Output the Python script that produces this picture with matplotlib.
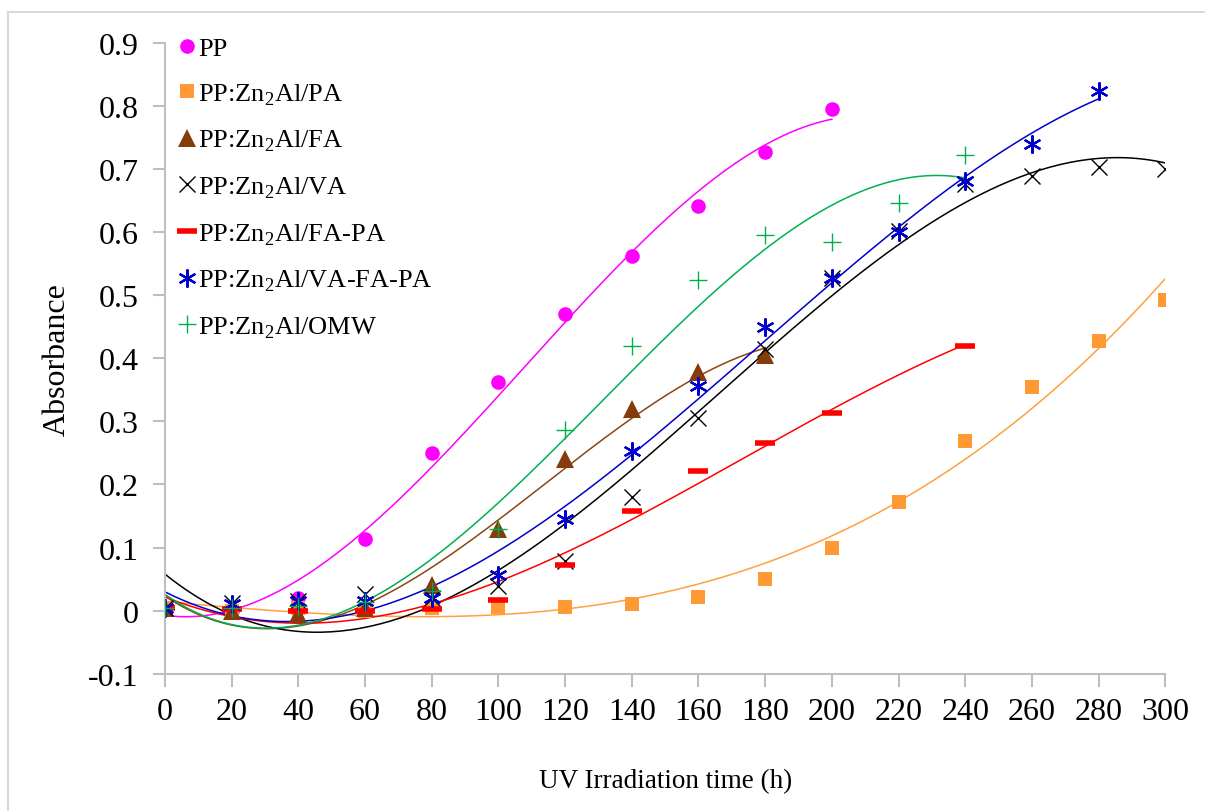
import numpy as np
import matplotlib
matplotlib.use("Agg")
import matplotlib.pyplot as plt
from matplotlib.lines import Line2D

plt.rcParams['font.family'] = ['Liberation Serif', 'DejaVu Serif']
plt.rcParams['mathtext.fontset'] = 'custom'
plt.rcParams['mathtext.rm'] = 'Liberation Serif'

# UV irradiation time (h)
t_pp = [0, 20, 40, 60, 80, 100, 120, 140, 160, 180, 200]
a_pp = [0.005, 0.0, 0.02, 0.113, 0.25, 0.362, 0.47, 0.562, 0.642, 0.727, 0.795]

t_pa = [0, 20, 40, 60, 80, 100, 120, 140, 160, 180, 200, 220, 240, 260, 280, 300]
a_pa = [0.005, 0.0, 0.005, 0.0, 0.005, 0.006, 0.006, 0.01, 0.022, 0.05, 0.099,
        0.173, 0.269, 0.355, 0.428, 0.493]

t_fa = [0, 20, 40, 60, 80, 100, 120, 140, 160, 180]
a_fa = [0.005, 0.0, -0.005, 0.005, 0.04, 0.129, 0.24, 0.319, 0.378, 0.406]

t_va = [0, 20, 40, 60, 80, 100, 120, 140, 160, 180, 200, 220, 240, 260, 280, 300]
a_va = [0.005, 0.012, 0.015, 0.027, 0.02, 0.039, 0.079, 0.18, 0.305, 0.415,
        0.528, 0.602, 0.676, 0.689, 0.704, 0.70]

t_fapa = [0, 20, 40, 60, 80, 100, 120, 140, 160, 180, 200, 240]
a_fapa = [0.005, 0.002, 0.0, 0.0, 0.003, 0.017, 0.072, 0.158, 0.222, 0.265,
          0.314, 0.419]

t_vfp = [0, 20, 40, 60, 80, 100, 120, 140, 160, 180, 200, 220, 240, 260, 280]
a_vfp = [0.005, 0.01, 0.015, 0.015, 0.02, 0.057, 0.145, 0.253, 0.356, 0.45,
         0.528, 0.60, 0.681, 0.739, 0.824]

t_omw = [0, 20, 40, 60, 80, 100, 120, 140, 160, 180, 200, 220, 240]
a_omw = [0.005, 0.005, 0.008, 0.013, 0.031, 0.13, 0.286, 0.42, 0.524, 0.595,
         0.584, 0.646, 0.722]

labels = ['PP', 'PP:Zn$_2$Al/PA', 'PP:Zn$_2$Al/FA', 'PP:Zn$_2$Al/VA',
          'PP:Zn$_2$Al/FA-PA', 'PP:Zn$_2$Al/VA-FA-PA', 'PP:Zn$_2$Al/OMW']

series = [
    (t_pp, a_pp, dict(marker='o', color='#FF00FF', ms=10.5, mew=0), '#FF00FF'),
    (t_pa, a_pa, dict(marker='s', color='#FF9933', ms=10, mew=0), '#FFA040'),
    (t_fa, a_fa, dict(marker='^', color='#843C0C', ms=13, mew=0), '#8B4513'),
    (t_va, a_va, dict(marker='x', color='black', ms=12, mew=1.0), 'black'),
    (t_fapa, a_fapa, dict(marker='_', color='#FF0000', ms=15, mew=4), '#FF0000'),
    (t_vfp, a_vfp, dict(marker=(6, 2, 0), color='#0000CC', ms=13, mew=1.6), '#0000CC'),
    (t_omw, a_omw, dict(marker='+', color='#00B050', ms=13, mew=1.0), '#00B050'),
]

fig = plt.figure(figsize=(12.05, 8.12), dpi=100)
ax = fig.add_axes([0.137, 0.169, 0.830, 0.777])

# polynomial (order 3) trendlines
for t, a, mk, lc in series:
    coef = np.polyfit(t, a, 3)
    xs = np.linspace(min(t), max(t), 200)
    ax.plot(xs, np.polyval(coef, xs), color=lc, lw=1.1, zorder=2)

handles = []
for (t, a, mk, lc), lab in zip(series, labels):
    ax.plot(t, a, linestyle='none', zorder=3, **mk)
    handles.append(Line2D([], [], linestyle='none', label=lab, **mk))

ax.set_xlim(0, 300)
ax.set_ylim(-0.1, 0.9)
ax.set_xticks(range(0, 301, 20))
yt = [-0.1, 0, 0.1, 0.2, 0.3, 0.4, 0.5, 0.6, 0.7, 0.8, 0.9]
ax.set_yticks(yt)
ax.set_yticklabels(['-0.1' if v < 0 else ('0' if v == 0 else f'{v:.1f}') for v in yt])

for s in ['top', 'right']:
    ax.spines[s].set_visible(False)
for s in ['left', 'bottom']:
    ax.spines[s].set_color('#BFBFBF')
    ax.spines[s].set_linewidth(1.5)
ax.tick_params(axis='both', colors='#BFBFBF', labelcolor='black', labelsize=23,
               length=9, width=1.5, direction='out')
ax.tick_params(axis='x', pad=8)
ax.tick_params(axis='y', pad=10)

ax.set_xlabel('UV Irradiation time (h)', fontsize=19.5, labelpad=30)
ax.set_ylabel('Absorbance', fontsize=23, labelpad=12)

ax.legend(handles=handles, loc='upper left', bbox_to_anchor=(-0.004, 1.039),
          frameon=False, fontsize=19, handlelength=0.6, handletextpad=0.1,
          labelspacing=0.8, borderaxespad=0.3)

# outer chart-area border
fig.add_artist(Line2D([8 / 1205, 8 / 1205], [0, 1 - 13 / 812],
                      transform=fig.transFigure, color='#D9D9D9', lw=1.5))
fig.add_artist(Line2D([8 / 1205, 1], [1 - 13 / 812, 1 - 13 / 812],
                      transform=fig.transFigure, color='#D9D9D9', lw=1.5))

fig.savefig('out.png', dpi=100)
